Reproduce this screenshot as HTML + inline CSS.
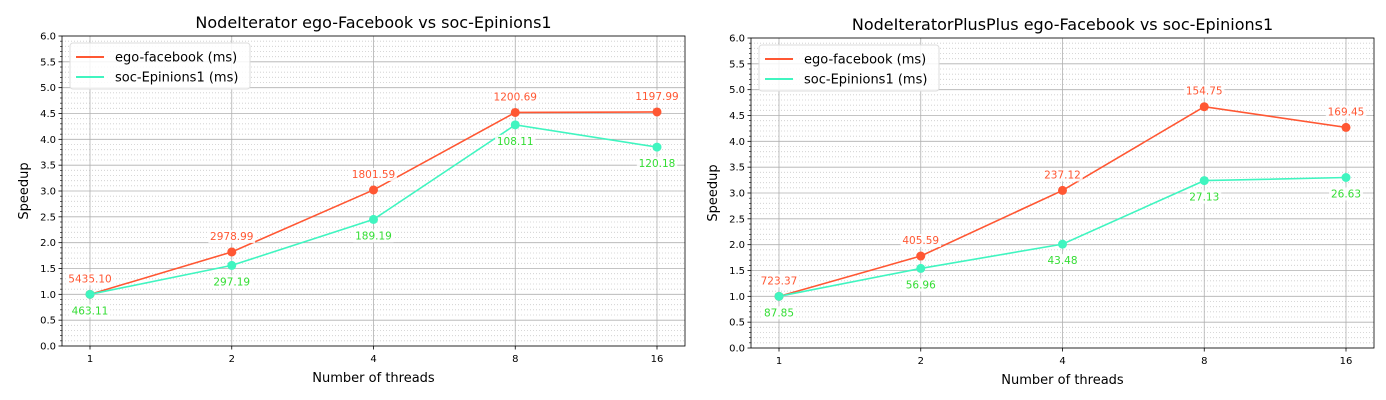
<!DOCTYPE html>
<html><head><meta charset="utf-8"><style>
html,body{margin:0;padding:0;background:#fff;width:1386px;height:400px;overflow:hidden}
text{font-family:"DejaVu Sans","Liberation Sans",sans-serif}
</style></head><body>
<svg id="svg" width="1386" height="400"></svg>
<script>
const threads = [1, 2, 4, 8, 16];
const leftTitle = "NodeIterator ego-Facebook vs soc-Epinions1";
const rightTitle = "NodeIteratorPlusPlus ego-Facebook vs soc-Epinions1";
const leftEgo = [1.0, 1.82, 3.02, 4.52, 4.53];
const leftSoc = [1.0, 1.56, 2.45, 4.28, 3.85];
const leftEgoLabels = ["5435.10", "2978.99", "1801.59", "1200.69", "1197.99"];
const leftSocLabels = ["463.11", "297.19", "189.19", "108.11", "120.18"];
const rightEgo = [1.0, 1.78, 3.05, 4.67, 4.27];
const rightSoc = [1.0, 1.54, 2.01, 3.24, 3.30];
const rightEgoLabels = ["723.37", "405.59", "237.12", "154.75", "169.45"];
const rightSocLabels = ["87.85", "56.96", "43.48", "27.13", "26.63"];
const yTicks = [0, 0.5, 1, 1.5, 2, 2.5, 3, 3.5, 4, 4.5, 5, 5.5, 6];

const NS = "http://www.w3.org/2000/svg";
const svg = document.getElementById("svg");
function mk(tag, attrs, parent, txt) {
  const e = document.createElementNS(NS, tag);
  for (const k in attrs) e.setAttribute(k, attrs[k]);
  if (txt !== undefined) e.textContent = txt;
  (parent || svg).appendChild(e);
  return e;
}
const EGO = "#ff5733", SOC = "#40f5c0", EGOT = "#ff5733", SOCT = "#33dd33";

function panel(prefix, L, R, T, B, title, ego, soc, egoL, socL) {
  const g = mk("g", {});
  
  
  const x0 = L + 28, x1 = R - 28;
  const xs = v => x0 + (Math.log2(v) / 4) * (x1 - x0);
  const ys = v => B - (v / 6) * (B - T);
  // minor grid
  for (let i = 0; i <= 60; i++) {
    const v = i / 10; if (i % 5 === 0) continue;
    const y = ys(v);
    mk("line", {x1: L, x2: R, y1: y, y2: y, stroke: "#ccc", "stroke-width": 0.8, "stroke-dasharray": "1,2"}, g);
    mk("line", {x1: L - 2, x2: L, y1: y, y2: y, stroke: "#000", "stroke-width": 0.6}, g);
  }
  // major grid & y ticks
  yTicks.forEach(v => {
    const y = ys(v);
    const gl = mk("line", {x1: L, x2: R, y1: y, y2: y, stroke: "#b0b0b0", "stroke-width": 0.8}, g);
    
    
    mk("line", {x1: L - 3.5, x2: L, y1: y, y2: y, stroke: "#000", "stroke-width": 0.8}, g);
    const t = mk("text", {x: L - 6, y: y + 3.5, "text-anchor": "end", "font-size": 10}, g, v.toFixed(1));
    
    
  });
  threads.forEach(v => {
    const x = xs(v);
    mk("line", {x1: x, x2: x, y1: T, y2: B, stroke: "#b0b0b0", "stroke-width": 0.8}, g);
    mk("line", {x1: x, x2: x, y1: B, y2: B + 3.5, stroke: "#000", "stroke-width": 0.8}, g);
    const t = mk("text", {x: x, y: B + 16, "text-anchor": "middle", "font-size": 10}, g, String(v));
    
    
  });
  mk("rect", {x: L, y: T, width: R - L, height: B - T, fill: "none", stroke: "#000", "stroke-width": 0.8}, g);
  const tt = mk("text", {x: (L + R) / 2, y: T - 8, "text-anchor": "middle", "font-size": 16}, g, title);
  
  
  const xt = mk("text", {x: (L + R) / 2, y: B + 36, "text-anchor": "middle", "font-size": 13}, g, "Number of threads");
  
  
  const yt = mk("text", {x: 0, y: 0, "text-anchor": "middle", "font-size": 13, transform: `translate(${L - 34},${(T + B) / 2}) rotate(-90)`}, g, "Speedup");
  
  

  function series(vals, labels, col, tcol, name, dy) {
    const pts = vals.map((v, i) => xs(threads[i]) + "," + ys(v)).join(" ");
    const pl = mk("polyline", {points: pts, fill: "none", stroke: col, "stroke-width": 1.6}, g);
    
    
    vals.forEach((v, i) => {
      const c = mk("circle", {cx: xs(threads[i]), cy: ys(v), r: 4.5, fill: col}, g);
      
      
    });
    vals.forEach((v, i) => {
      const x = xs(threads[i]), y = ys(v) + dy;
      const w = labels[i].length * 6.4 + 2;
      mk("rect", {x: x - w / 2, y: y - 10, width: w, height: 13, fill: "#fff", opacity: 0.85}, g);
      const t = mk("text", {x: x, y: y, "text-anchor": "middle", "font-size": 10.5, fill: tcol}, g, labels[i]);
      
      
    });
  }
  series(ego, egoL, EGO, EGOT, "ego-facebook", -12);
  series(soc, socL, SOC, SOCT, "soc-epinions1", 20);

  const lg = mk("g", {}, g);
  
  
  mk("rect", {x: L + 8, y: T + 7, width: 180, height: 46, rx: 3, fill: "#fff", "fill-opacity": 0.85, stroke: "#ddd"}, lg);
  [["ego-facebook (ms)", EGO], ["soc-Epinions1 (ms)", SOC]].forEach((d, i) => {
    const y = T + 21 + i * 20;
    mk("line", {x1: L + 14, x2: L + 42, y1: y, y2: y, stroke: d[1], "stroke-width": 2}, lg);
    const t = mk("text", {x: L + 53, y: y + 4.5, "font-size": 13}, lg, d[0]);
    
    
  });
}
panel("left", 62, 685, 36, 346, leftTitle, leftEgo, leftSoc, leftEgoLabels, leftSocLabels);
panel("right", 751, 1374, 38, 348, rightTitle, rightEgo, rightSoc, rightEgoLabels, rightSocLabels);
</script>
</body></html>
